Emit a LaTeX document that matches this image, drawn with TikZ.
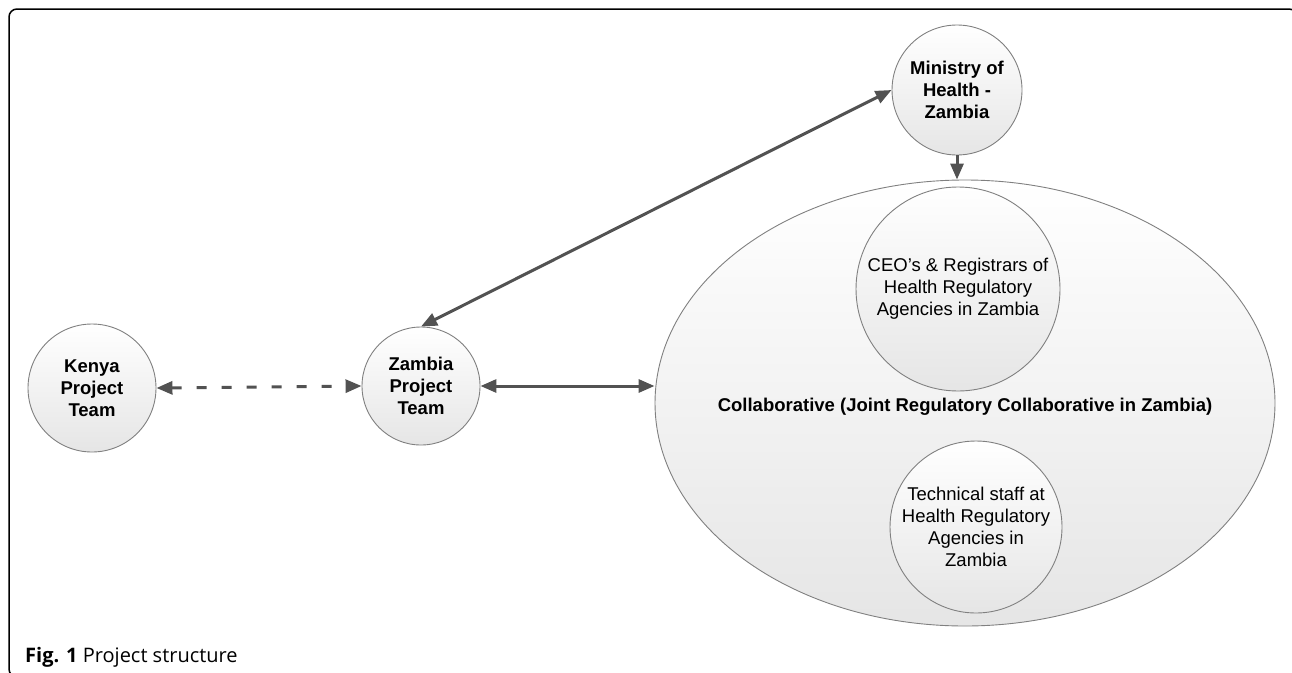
\documentclass[tikz,border=0pt]{standalone}
\usepackage{fontspec}
\setmainfont{Liberation Sans}
\newfontfamily\capfont{Open Sans}
\usetikzlibrary{positioning}
\usetikzlibrary{shapes.geometric}
\usetikzlibrary{arrows.meta}

\tikzset{
  bubble/.style={circle, draw=black!50, line width=0.9pt, top color=white, bottom color=black!10, align=center, inner sep=0pt, font=\fontsize{18.5}{22}\selectfont},
  boldbubble/.style={bubble, font=\fontsize{18.5}{22}\selectfont\bfseries},
  link/.style={draw=black!68, line width=3pt, {Triangle[length=16pt,width=13pt]}-{Triangle[length=16pt,width=13pt]}},
  onelink/.style={draw=black!68, line width=3pt, -{Triangle[length=16pt,width=13pt]}}
}

\begin{document}
\begin{tikzpicture}[x=1pt, y=-1pt]
\useasboundingbox (0,0) rectangle (1292,672);
\draw[line width=1.5pt, rounded corners=8pt] (9,9) rectangle (1297,677);

\coordinate (c) at (965, 403);
\node[bubble, ellipse, minimum width=620pt, minimum height=446pt] (collab) at (c) {};
\node[font=\fontsize{18.5}{22}\selectfont\bfseries] (collabtext) at ([shift={(0,4)}]c) {Collaborative (Joint Regulatory Collaborative in Zambia)};
\node[bubble, minimum size=204pt] (ceo) at ([shift={(-7,-114)}]c) {CEO's \& Registrars of\\Health Regulatory\\Agencies in Zambia};
\node[bubble, minimum size=172pt] (tech) at ([shift={(11,124)}]c) {Technical staff at\\Health Regulatory\\Agencies in\\Zambia};

\node[boldbubble, minimum size=128pt] (kenya) at (92, 388) {Kenya\\Project\\Team};
\node[boldbubble, minimum size=118pt] (zambia) at (421, 386) {Zambia\\Project\\Team};
\node[boldbubble, minimum size=130pt] (ministry) at (957, 90) {Ministry of\\Health -\\Zambia};

\draw[link, dash pattern=on 10pt off 15pt] (kenya.east) -- (zambia.west);
\draw[link] (zambia.east) -- (zambia.east -| collab.west);
\draw[link] (zambia.north) -- (ministry.west);
\draw[onelink] (ministry.south) -- (ministry.south |- collab.north);

\node[anchor=base west, inner sep=0pt] (cap) at (25, 662) {\capfont\fontsize{20}{23}\selectfont\textbf{Fig. 1} Project structure};
\end{tikzpicture}
\end{document}
